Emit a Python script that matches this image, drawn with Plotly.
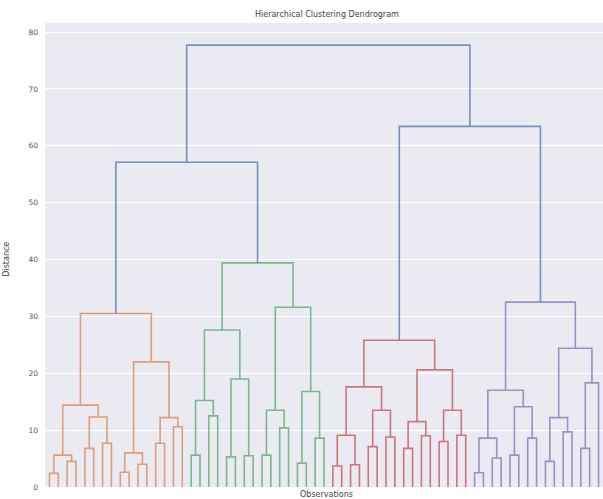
import plotly.graph_objects as go

# Merge heights of the hierarchical clustering, written as nested
# (height, left, right) tuples; integers are observation ids in leaf order.
orange_tree = (30.5,
               (14.4,
                (5.6, (2.4, 0, 1), (4.5, 2, 3)),
                (12.3, (6.8, 4, 5), (7.7, 6, 7))),
               (22.0,
                (6.0, (2.6, 8, 9), (4.0, 10, 11)),
                (12.2, (7.7, 12, 13), (10.6, 14, 15))))

green_tree = (39.4,
              (27.6,
               (15.2, (5.6, 16, 17), (12.5, 18, 19)),
               (19.0, (5.3, 20, 21), (5.5, 22, 23))),
              (31.6,
               (13.5, (5.6, 24, 25), (10.4, 26, 27)),
               (16.8, (4.2, 28, 29), (8.6, 30, 31))))

red_tree = (25.8,
            (17.6,
             (9.1, (3.7, 32, 33), (3.9, 34, 35)),
             (13.5, (7.1, 36, 37), (8.8, 38, 39))),
            (20.6,
             (11.5, (6.8, 40, 41), (9.0, 42, 43)),
             (13.5, (8.0, 44, 45), (9.1, 46, 47))))

purple_tree = (32.5,
               (17.0,
                (8.6, (2.5, 48, 49), (5.1, 50, 51)),
                (14.1, (5.6, 52, 53), (8.6, 54, 55))),
               (24.4,
                (12.2, (4.5, 56, 57), (9.7, 58, 59)),
                (18.3, (6.8, 60, 61), 62)))

top_merge_heights = [57.1, 63.4, 77.7]
linkage_tree = (top_merge_heights[2],
                (top_merge_heights[0], orange_tree, green_tree),
                (top_merge_heights[1], red_tree, purple_tree))

y_ticks = [0, 10, 20, 30, 40, 50, 60, 70, 80]

# seaborn "deep" palette: C0 for links above the threshold, C1.. for clusters
above_color = "#4C72B0"
cluster_colors = ["#DD8452", "#55A868", "#C44E52", "#8172B3"]

max_height = linkage_tree[0]
color_threshold = 0.7 * max_height


def count_leaves(node):
    if isinstance(node, int):
        return 1
    return count_leaves(node[1]) + count_leaves(node[2])


n_leaves = count_leaves(linkage_tree)
segments = {}
state = {"leaf": 0, "cluster": 0}


def walk(node, color):
    """Return (x, height) of node and collect its U-shaped link."""
    if isinstance(node, int):
        x = 5 + 10 * state["leaf"]
        state["leaf"] += 1
        return x, 0.0
    h, left, right = node
    if color is None and h < color_threshold:
        color = cluster_colors[state["cluster"] % len(cluster_colors)]
        state["cluster"] += 1
    link_color = color if color is not None else above_color
    xa, ha = walk(left, color)
    xb, hb = walk(right, color)
    xs, ys = segments.setdefault(link_color, ([], []))
    xs.extend([xa, xa, xb, xb, None])
    ys.extend([ha, h, h, hb, None])
    return (xa + xb) / 2, h


walk(linkage_tree, None)

fig = go.Figure()
for c, (xs, ys) in segments.items():
    fig.add_trace(go.Scatter(x=xs, y=ys, mode="lines",
                             line=dict(color=c, width=1.6),
                             opacity=0.75, hoverinfo="skip"))

font = "DejaVu Sans"
fig.update_layout(
    width=603, height=499,
    margin=dict(l=45, r=0, t=23, b=12),
    paper_bgcolor="white", plot_bgcolor="#EAEAF2",
    showlegend=False,
    font=dict(family=font, size=8, color="#333333"),
    xaxis=dict(range=[0, 10 * n_leaves], showticklabels=False,
               showgrid=False, zeroline=False, ticks=""),
    yaxis=dict(range=[0, max_height * 1.05], tickvals=y_ticks,
               showgrid=True, gridcolor="white", gridwidth=1,
               zeroline=False, ticks="", showline=False,
               ticklabelstandoff=6,
               tickfont=dict(family=font, size=7.5, color="#555555")),
    annotations=[
        dict(text="Hierarchical Clustering Dendrogram", xref="paper", yref="paper",
             x=0.505, y=1.019, showarrow=False, xanchor="center", yanchor="middle",
             font=dict(family=font, size=8, color="#444444")),
        dict(text="Observations", xref="paper", yref="paper",
             x=0.505, y=-0.016, showarrow=False, xanchor="center", yanchor="middle",
             font=dict(family=font, size=8, color="#444444")),
        dict(text="Distance", xref="paper", yref="paper",
             x=-0.068, y=0.49, showarrow=False, textangle=-90,
             xanchor="center", yanchor="middle",
             font=dict(family=font, size=8, color="#444444")),
    ],
)

fig.write_html("out.html")
